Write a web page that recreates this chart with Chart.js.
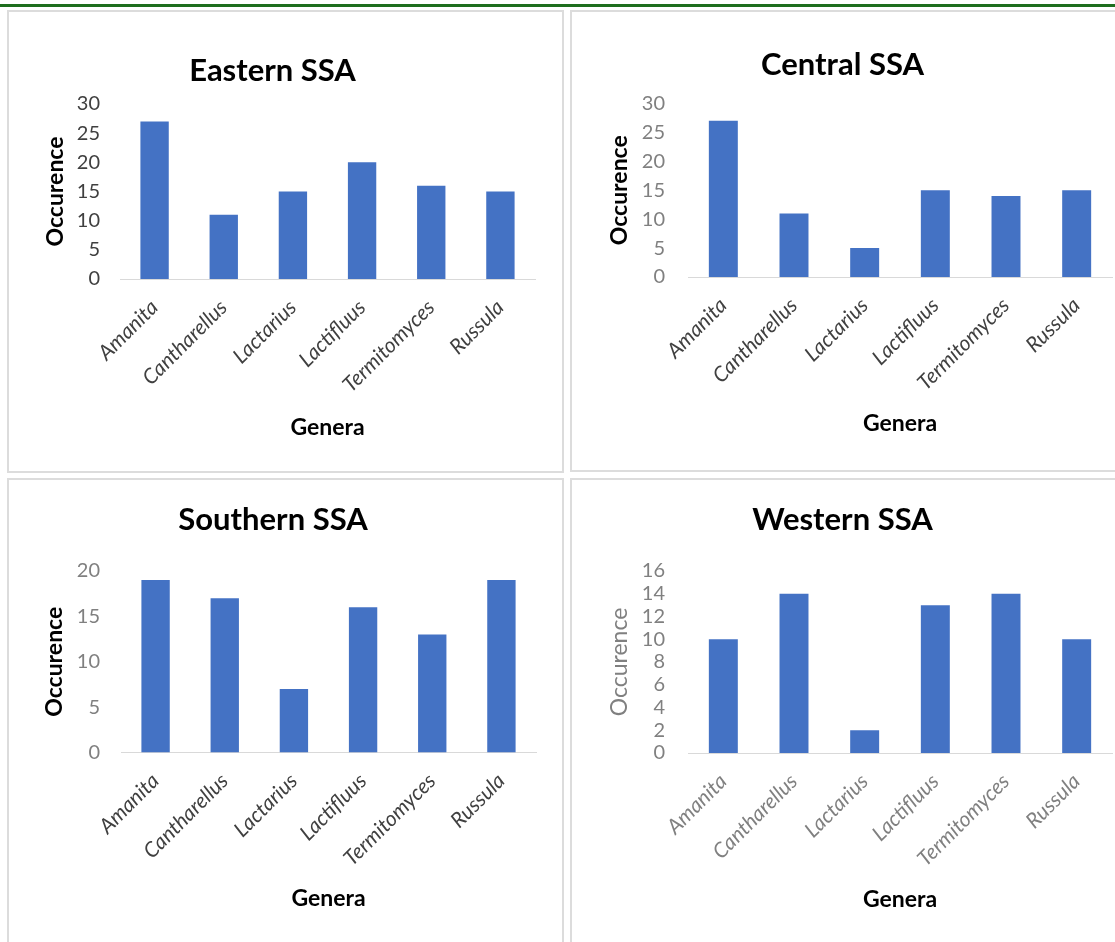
<!DOCTYPE html>
<html>
<head>
<meta charset="utf-8">
<script src="https://cdn.jsdelivr.net/npm/chart.js@4.4.1/dist/chart.umd.min.js"></script>
<style>
  body { margin:0; background:#fff; width:1115px; height:942px; overflow:hidden; position:relative; font-family:Lato, sans-serif; }
  .topline { position:absolute; left:0; top:4px; width:1115px; height:3px; background:#1e6e1e; }
  .panel { position:absolute; border:2px solid #dcdcdc; box-sizing:border-box; }
  canvas { position:absolute; }
</style>
</head>
<body>
<div class="topline"></div>
<div class="panel" style="left:7px;top:10px;width:557px;height:463px;"></div>
<div class="panel" style="left:570px;top:10px;width:560px;height:462px;"></div>
<div class="panel" style="left:7px;top:478px;width:557px;height:470px;"></div>
<div class="panel" style="left:570px;top:478px;width:560px;height:470px;"></div>

<canvas id="eastern"  width="551" height="458" style="left:10px;top:13px;"></canvas>
<canvas id="central"  width="542" height="456" style="left:573px;top:13px;"></canvas>
<canvas id="southern" width="551" height="461" style="left:10px;top:481px;"></canvas>
<canvas id="western"  width="542" height="461" style="left:573px;top:481px;"></canvas>

<script>
// ---- Data ----
const GENERA   = ['Amanita', 'Cantharellus', 'Lactarius', 'Lactifluus', 'Termitomyces', 'Russula'];
const EASTERN  = [27, 11, 15, 20, 16, 15];
const CENTRAL  = [27, 11, 5, 15, 14, 15];
const SOUTHERN = [19, 17, 7, 16, 13, 19];
const WESTERN  = [10, 14, 2, 13, 14, 10];

const EASTERN_AXIS  = [0, 30, 5];   // min, max, step
const CENTRAL_AXIS  = [0, 30, 5];
const SOUTHERN_AXIS = [0, 20, 5];
const WESTERN_AXIS  = [0, 16, 2];

const BAR_COLOR = '#4472c4';
const FONT = 'Lato';
const TITLE_SIZE = 31;
const AXIS_TITLE_SIZE = 23;

// ---- One panel ----
function makeChart(id, title, values, axis, L) {
  const tHalf = TITLE_SIZE * 1.2 / 2;
  const aHalf = AXIS_TITLE_SIZE * 1.2 / 2;
  const ctx = document.getElementById(id).getContext('2d');
  return new Chart(ctx, {
    type: 'bar',
    data: {
      labels: GENERA,
      datasets: [{ data: values, backgroundColor: BAR_COLOR, borderWidth: 0, barPercentage: 0.41, categoryPercentage: 1 }],
    },
    options: {
      responsive: false,
      animation: false,
      devicePixelRatio: 1,
      layout: { padding: { left: 0, right: L.padRight, top: 0, bottom: 0 } },
      plugins: {
        legend: { display: false },
        tooltip: { enabled: false },
        title: {
          display: true, text: title, color: '#000',
          font: { family: FONT, size: TITLE_SIZE, weight: 'bold', lineHeight: 1.2 },
          padding: { top: L.titleMid - tHalf, bottom: L.top - (L.titleMid - tHalf) - 2 * tHalf },
        },
      },
      scales: {
        x: {
          grid: { display: false, drawTicks: false },
          border: { display: true, color: '#d9d9d9', width: 1 },
          ticks: {
            autoSkip: false, maxRotation: 45, minRotation: 45, padding: 16,
            color: L.xTickColor, font: { family: FONT, size: 21, style: 'italic' },
          },
          title: {
            display: true, text: 'Genera', color: '#000',
            font: { family: FONT, size: AXIS_TITLE_SIZE, weight: 'bold', lineHeight: 1.2 },
            padding: { top: 0, bottom: L.xTitleOff - aHalf },
          },
          afterFit: s => { s.height = L.xHeight; },
        },
        y: {
          min: axis[0], max: axis[1],
          grid: { display: false, drawTicks: false },
          border: { display: false },
          ticks: {
            stepSize: axis[2], padding: L.yTickPad, autoSkip: false,
            color: L.yTickColor, font: { family: FONT, size: 20 },
          },
          title: {
            display: true, text: 'Occurence', color: L.yTitleColor,
            font: { family: FONT, size: AXIS_TITLE_SIZE, weight: L.yTitleWeight, lineHeight: 1.2 },
            padding: { top: L.yTitleMid - aHalf, bottom: 0 },
          },
          afterFit: s => { s.width = L.yWidth; },
        },
      },
    },
  });
}

makeChart('eastern', 'Eastern SSA', EASTERN, EASTERN_AXIS, {
  padRight: 26, yWidth: 110, xHeight: 192, top: 91, titleMid: 58,
  yTitleMid: 45.5, yTickPad: 20, xTitleOff: 43,
  yTickColor: '#404040', xTickColor: '#404040', yTitleColor: '#000', yTitleWeight: 'bold',
});
makeChart('central', 'Central SSA', CENTRAL, CENTRAL_AXIS, {
  padRight: 3, yWidth: 115, xHeight: 192, top: 90.5, titleMid: 52,
  yTitleMid: 46.5, yTickPad: 23, xTitleOff: 45,
  yTickColor: '#808080', xTickColor: '#404040', yTitleColor: '#000', yTitleWeight: 'bold',
});
makeChart('southern', 'Southern SSA', SOUTHERN, SOUTHERN_AXIS, {
  padRight: 25, yWidth: 111, xHeight: 189.5, top: 90, titleMid: 39,
  yTitleMid: 45, yTickPad: 21, xTitleOff: 43,
  yTickColor: '#808080', xTickColor: '#404040', yTitleColor: '#000', yTitleWeight: 'bold',
});
makeChart('western', 'Western SSA', WESTERN, WESTERN_AXIS, {
  padRight: 3, yWidth: 115, xHeight: 189, top: 90, titleMid: 39,
  yTitleMid: 47, yTickPad: 23, xTitleOff: 42,
  yTickColor: '#808080', xTickColor: '#808080', yTitleColor: '#808080', yTitleWeight: 'normal',
});
</script>
</body>
</html>
